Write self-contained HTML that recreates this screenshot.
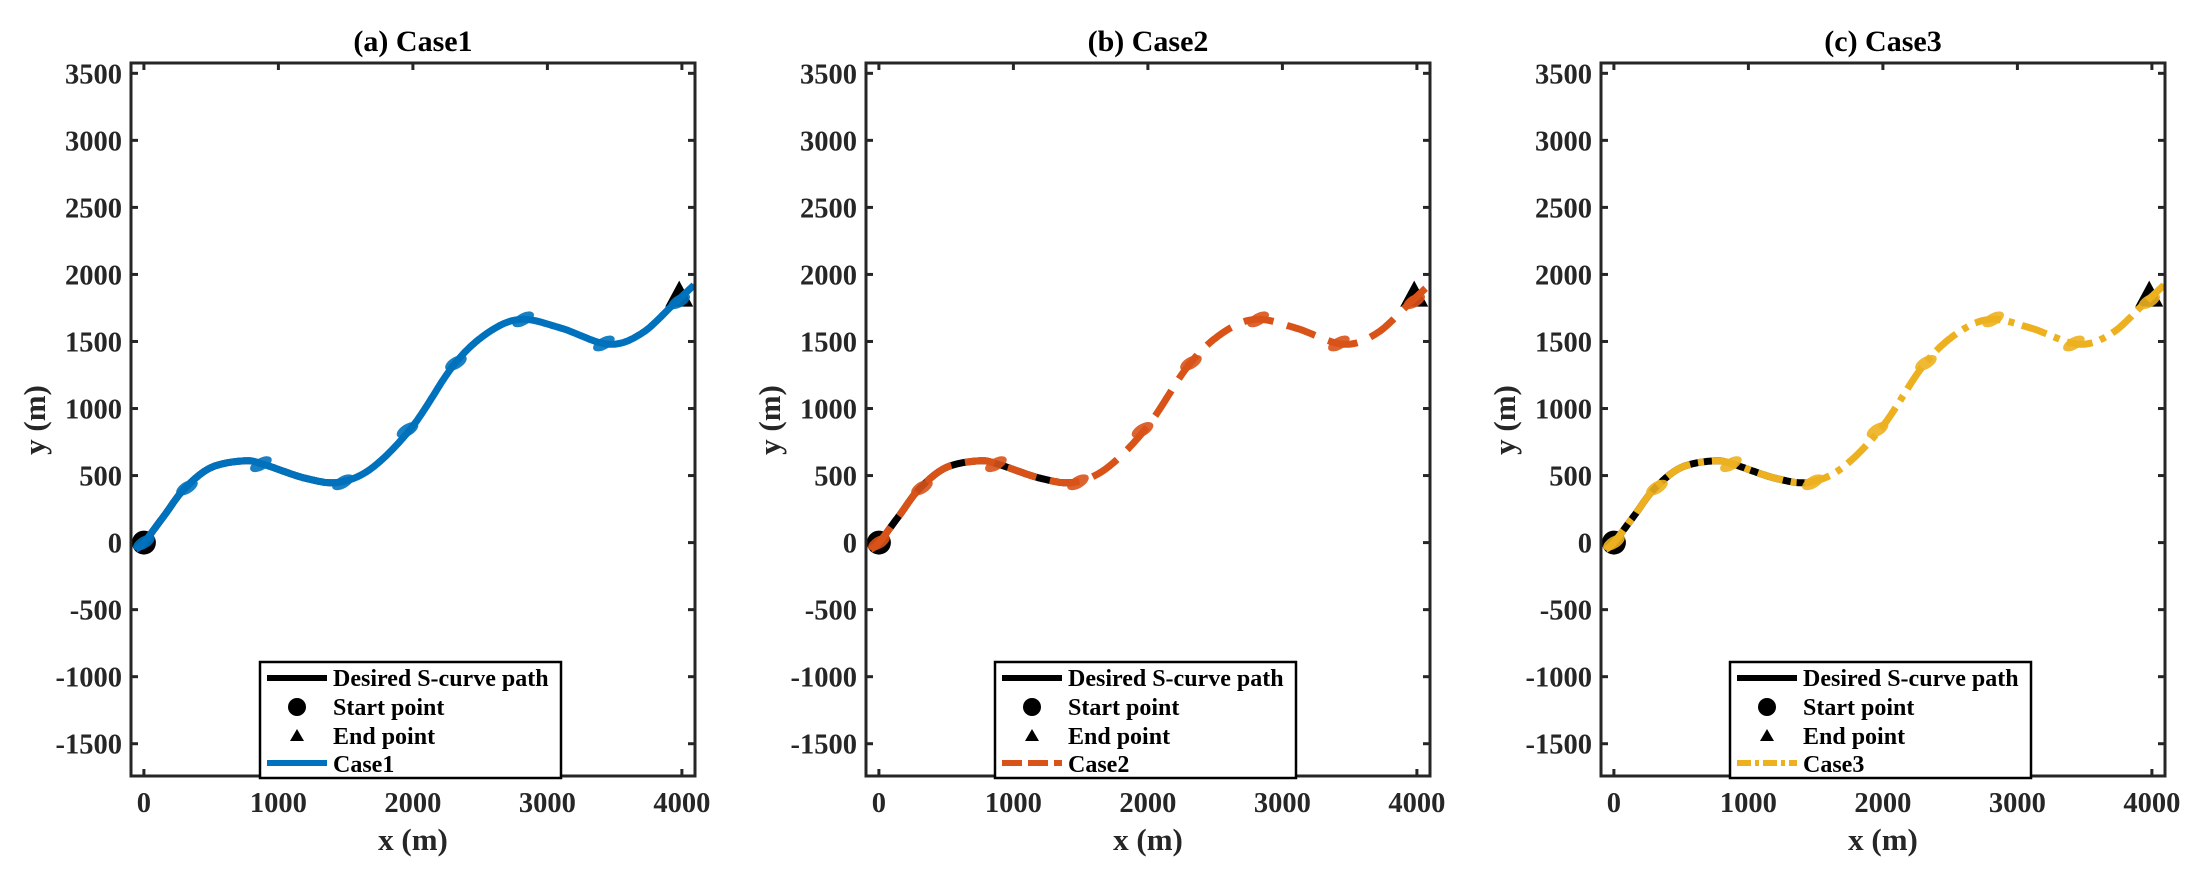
<!DOCTYPE html>
<html><head><meta charset="utf-8">
<style>
body{margin:0;background:#fff;}
svg{display:block;font-family:"Liberation Serif",serif;font-weight:bold;}
</style></head>
<body>
<svg id="s" width="2190" height="878" viewBox="0 0 2190 878" xmlns="http://www.w3.org/2000/svg"></svg>
<script>
const S=document.getElementById('s');
const pts=[[-60,-50],[0,0],[150,200],[300,400],[500,560],[750,610],[900,580],[1200,480],[1450,450],[1700,560],[2000,870],[2300,1320],[2550,1560],[2800,1665],[3100,1600],[3450,1480],[3700,1560],[3950,1790],[4100,1930]];
function cr(p,n){let out=[];for(let i=0;i<p.length-1;i++){const p0=p[Math.max(0,i-1)],p1=p[i],p2=p[i+1],p3=p[Math.min(p.length-1,i+2)];for(let k=0;k<n;k++){const t=k/n,t2=t*t,t3=t2*t;out.push([0.5*(2*p1[0]+(-p0[0]+p2[0])*t+(2*p0[0]-5*p1[0]+4*p2[0]-p3[0])*t2+(-p0[0]+3*p1[0]-3*p2[0]+p3[0])*t3),0.5*(2*p1[1]+(-p0[1]+p2[1])*t+(2*p0[1]-5*p1[1]+4*p2[1]-p3[1])*t2+(-p0[1]+3*p1[1]-3*p2[1]+p3[1])*t3)]);}}out.push(p[p.length-1]);return out;}
const curve=cr(pts,20);
let h='';
const L=131,R=695,T=63,B=776;
const X=x=>143.9+x*0.1345, Y=y=>542.6-y*0.13408;
const panels=[{o:0,t:'(a) Case1',c:'#0072BD',d:'',n:'Case1'},{o:735,t:'(b) Case2',c:'#D95319',d:'30 14',n:'Case2'},{o:1470,t:'(c) Case3',c:'#EDB120',d:'26 8 6 8',n:'Case3'}];
const fb=curve.filter(p=>p[0]>=-10&&p[0]<=1480).map(p=>(X(p[0])).toFixed(1)+','+Y(p[1]).toFixed(1)).join(' ');
const full=curve.filter(p=>X(p[0])>=L-4).map(p=>X(Math.min(p[0],4090)).toFixed(1)+','+Y(p[1]).toFixed(1)).join(' ');
const ships=[[0,0],[320,410],[870,585],[1480,450],[1960,840],[2320,1340],[2820,1665],[3420,1485],[3980,1800]];
panels.forEach(P=>{
h+=`<g transform="translate(${P.o},0)">`;
h+=`<defs><clipPath id="c${P.o}"><rect x="${L}" y="${T}" width="${R-L}" height="${B-T}"/></clipPath></defs>`;
h+=`<text x="413" y="51" font-size="30" text-anchor="middle" fill="#000">${P.t}</text>`;
for(let v=-1500;v<=3500;v+=500){const y=Y(v);h+=`<line x1="${L}" y1="${y}" x2="${L+7}" y2="${y}" stroke="#262626" stroke-width="3"/><line x1="${R}" y1="${y}" x2="${R-7}" y2="${y}" stroke="#262626" stroke-width="3"/><text x="${L-9}" y="${y+10}" font-size="28.5" text-anchor="end" fill="#262626">${v}</text>`;}
for(let v=0;v<=4000;v+=1000){const x=X(v);h+=`<line x1="${x}" y1="${T}" x2="${x}" y2="${T+7}" stroke="#262626" stroke-width="3"/><line x1="${x}" y1="${B}" x2="${x}" y2="${B-7}" stroke="#262626" stroke-width="3"/><text x="${x}" y="${B+36}" font-size="28.5" text-anchor="middle" fill="#262626">${v}</text>`;}
h+=`<text x="413" y="850" font-size="31" text-anchor="middle" fill="#262626">x (m)</text>`;
h+=`<text transform="translate(45,420) rotate(-90)" x="0" y="0" font-size="31" text-anchor="middle" fill="#262626">y (m)</text>`;
h+=`<g clip-path="url(#c${P.o})">`;
h+=`<circle cx="${X(0)}" cy="${Y(0)}" r="12" fill="#000"/>`;
h+=`<polygon points="${X(3980)-14},${Y(1760)} ${X(3980)+14},${Y(1760)} ${X(3980)},${Y(1760)-26}" fill="#000"/>`;
h+=`<polyline points="${fb}" fill="none" stroke="#000" stroke-width="7"/>`;
ships.forEach(s=>{h+=`<ellipse cx="${X(s[0])}" cy="${Y(s[1])}" rx="12" ry="6" fill="${P.c}" opacity="0.9" transform="rotate(-30 ${X(s[0])} ${Y(s[1])})"/>`;});
h+=`<polyline points="${full}" fill="none" stroke="${P.c}" stroke-width="7" ${P.d?`stroke-dasharray="${P.d}"`:''}/>`;
h+=`</g>`;
h+=`<rect x="${L}" y="${T}" width="${R-L}" height="${B-T}" fill="none" stroke="#262626" stroke-width="3"/>`;
h+=`<rect x="260" y="662" width="301" height="116" fill="#fff" stroke="#000" stroke-width="2.5"/>`;
h+=`<line x1="267" y1="678" x2="327" y2="678" stroke="#000" stroke-width="6"/><text x="333" y="686" font-size="24" fill="#000">Desired S-curve path</text>`;
h+=`<circle cx="297" cy="707" r="9" fill="#000"/><text x="333" y="715" font-size="24" fill="#000">Start point</text>`;
h+=`<polygon points="290,741 304,741 297,729" fill="#000"/><text x="333" y="744" font-size="24" fill="#000">End point</text>`;
h+=`<line x1="267" y1="763" x2="327" y2="763" stroke="${P.c}" stroke-width="6" ${P.d?`stroke-dasharray="${P.d==='30 14'?'20 6':'14 4 4 4'}"`:''}/><text x="333" y="772" font-size="24" fill="#000">${P.n}</text>`;
h+=`</g>`;
});
S.innerHTML=h;
</script>
</body></html>
